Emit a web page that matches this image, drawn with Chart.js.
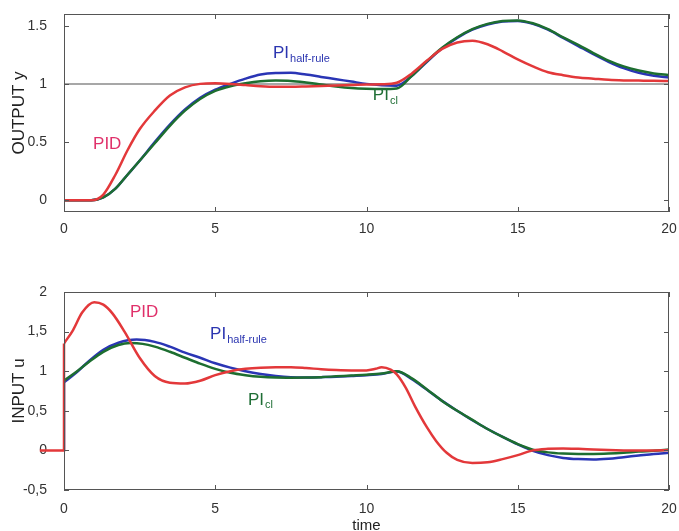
<!DOCTYPE html>
<html>
<head>
<meta charset="utf-8">
<script src="https://cdn.jsdelivr.net/npm/chart.js@4.4.1/dist/chart.umd.min.js"></script>
<style>
  html, body { margin: 0; padding: 0; background: #fff; }
  #wrap { position: relative; width: 679px; height: 531px; }
  canvas { position: absolute; left: 0; }
  #outChart { top: 0; }
  #inChart { top: 265px; }
</style>
</head>
<body>
<div id="wrap">
  <canvas id="outChart" width="679" height="265"></canvas>
  <canvas id="inChart" width="679" height="266"></canvas>
</div>
<script>
// ---------- Data ----------
const xTicks = [0, 5, 10, 15, 20];
const yTicksOut = [0, 0.5, 1, 1.5];
const yTicksIn = [-0.5, 0, 0.5, 1, 1.5, 2];

// OUTPUT y (shared time grid)
const tOut = [0, 0.9, 1.3, 1.7, 2.1, 2.5, 3.0, 3.5, 4.0, 4.5, 5.0, 5.5, 6.0, 6.5, 7.0, 7.5, 8.0, 8.5, 9.0, 9.5,
  10.0, 10.5, 11.0, 11.5, 12.0, 12.5, 13.0, 13.5, 14.0, 14.5, 15.0, 15.5, 16.0, 16.5, 17.0, 17.5, 18.0, 18.5, 19.0, 19.5, 20.0];
const yPid = [0, 0, 0.05, 0.22, 0.43, 0.61, 0.77, 0.9, 0.97, 1.0, 1.005, 1.0, 0.99, 0.98, 0.975, 0.975, 0.978, 0.982, 0.987, 0.99,
  0.995, 0.997, 1.01, 1.09, 1.2, 1.3, 1.355, 1.37, 1.34, 1.28, 1.21, 1.15, 1.1, 1.075, 1.055, 1.045, 1.035, 1.03, 1.028, 1.026, 1.025];
const yHalf = [0, 0, 0.025, 0.1, 0.22, 0.34, 0.5, 0.65, 0.78, 0.88, 0.95, 1.0, 1.045, 1.08, 1.093, 1.095, 1.08, 1.06, 1.04, 1.02,
  1.0, 0.988, 0.985, 1.07, 1.19, 1.305, 1.395, 1.465, 1.51, 1.535, 1.54, 1.515, 1.465, 1.395, 1.325, 1.255, 1.19, 1.135, 1.095, 1.07, 1.055];
const yCl = [0, 0, 0.025, 0.1, 0.22, 0.34, 0.49, 0.64, 0.77, 0.87, 0.94, 0.98, 1.005, 1.022, 1.028, 1.025, 1.012, 0.995, 0.978, 0.965,
  0.958, 0.955, 0.96, 1.07, 1.195, 1.31, 1.40, 1.47, 1.515, 1.54, 1.545, 1.52, 1.47, 1.40, 1.335, 1.265, 1.2, 1.15, 1.115, 1.09, 1.075];
const refT = [0, 20];
const refY = [1, 1];

// INPUT u: step at t = 0 (drawn straight), then the smooth responses
const tPidStep = [-0.8, 0, 0];
const uPidStep = [0, 0, 1.35];
const tPidIn = [0, 0.3, 0.6, 1.0, 1.3, 1.6, 2.0, 2.5, 3.0, 3.5, 4.0, 4.5, 5.0, 5.5, 6.0, 6.5, 7.0, 7.5,
  8.0, 8.5, 9.0, 9.5, 10.0, 10.3, 10.5, 10.8, 11.0, 11.3, 11.6, 12.0, 12.3, 12.65, 13.0, 13.5, 14.0, 14.5, 15.0, 15.5,
  16.0, 16.5, 17.0, 17.5, 18.0, 18.5, 19.0, 19.5, 20.0];
const uPid = [1.35, 1.52, 1.74, 1.87, 1.84, 1.73, 1.5, 1.17, 0.94, 0.855, 0.845, 0.88, 0.95, 1.0, 1.03, 1.045, 1.05, 1.05,
  1.04, 1.025, 1.015, 1.01, 1.01, 1.03, 1.05, 1.02, 0.96, 0.79, 0.56, 0.29, 0.12, -0.03, -0.12, -0.16, -0.15, -0.11, -0.06, 0.0,
  0.02, 0.025, 0.02, 0.012, 0.005, 0.0, -0.002, 0.0, 0.005];
const tHalfStep = [0, 0];
const uHalfStep = [0, 0.86];
const tHalfIn = [0, 0.4, 0.8, 1.3, 1.8, 2.4, 3.0, 3.5, 4.0, 4.5, 5.0, 5.5, 6.0, 6.5, 7.0, 7.5, 8.0, 8.5, 9.0, 9.5,
  10.0, 10.5, 11.0, 11.5, 12.0, 12.5, 13.0, 13.5, 14.0, 14.5, 15.0, 15.5, 16.0, 16.5, 17.0, 17.5, 18.0, 18.5, 19.0, 19.5, 20.0];
const uHalf = [0.86, 0.98, 1.12, 1.27, 1.36, 1.40, 1.37, 1.31, 1.235, 1.17, 1.10, 1.045, 1.0, 0.965, 0.94, 0.925, 0.922, 0.925, 0.93, 0.94,
  0.95, 0.965, 0.995, 0.9, 0.765, 0.625, 0.5, 0.38, 0.27, 0.17, 0.075, -0.005, -0.06, -0.095, -0.11, -0.115, -0.105, -0.085, -0.065, -0.045, -0.03];
const tClIn = [0, 0.4, 0.8, 1.3, 1.8, 2.2, 2.6, 3.0, 3.5, 4.0, 4.5, 5.0, 5.5, 6.0, 6.5, 7.0, 7.5, 8.0, 8.5, 9.0, 9.5,
  10.0, 10.5, 11.0, 11.5, 12.0, 12.5, 13.0, 13.5, 14.0, 14.5, 15.0, 15.5, 16.0, 16.5, 17.0, 17.5, 18.0, 18.5, 19.0, 19.5, 20.0];
const uCl = [0.88, 0.99, 1.11, 1.245, 1.33, 1.355, 1.345, 1.31, 1.245, 1.17, 1.095, 1.03, 0.98, 0.95, 0.93, 0.92, 0.918, 0.92, 0.925, 0.935, 0.945,
  0.955, 0.97, 1.0, 0.91, 0.77, 0.625, 0.5, 0.385, 0.27, 0.17, 0.08, 0.01, -0.025, -0.04, -0.045, -0.045, -0.04, -0.03, -0.015, -0.005, 0.01];

// in-plot labels (data coordinates)
const outLabels = [
  { text: "PID", sub: "", t: 0.96, v: 0.484, color: "#e0306a" },
  { text: "PI", sub: "half-rule", t: 6.91, v: 1.26, color: "#2b35b0" },
  { text: "PI", sub: "cl", t: 10.21, v: 0.9, color: "#1f6e35" },
];
const inLabels = [
  { text: "PID", sub: "", t: 2.18, v: 1.747, color: "#e0306a" },
  { text: "PI", sub: "half-rule", t: 4.83, v: 1.463, color: "#2b35b0" },
  { text: "PI", sub: "cl", t: 6.08, v: 0.636, color: "#1f6e35" },
];

// ---------- Style ----------
const RED = "#e3383a", BLUE = "#2a35b5", GREEN = "#1d6e30";
const FONT = "'Liberation Sans', Arial, sans-serif";
const pts = (ts, vs) => ts.map((t, i) => ({ x: t, y: vs[i] }));
const line = (data, color, extra = {}) => ({
  data, borderColor: color, borderWidth: 2.5, pointRadius: 0,
  cubicInterpolationMode: "monotone", fill: false, ...extra,
});
const straight = (data, color, extra = {}) => line(data, color, { cubicInterpolationMode: "default", tension: 0, ...extra });

// box + inward ticks + text labels
function framePlugin(labels) {
  return {
    id: "frame",
    afterDatasetsDraw(chart) {
      const { ctx, chartArea: a, scales: { x, y } } = chart;
      ctx.save();
      ctx.strokeStyle = "#555";
      ctx.lineWidth = 1;
      ctx.strokeRect(a.left + 0.5, a.top + 0.5, a.width - 1, a.height - 1);
      const L = 5;
      ctx.beginPath();
      x.ticks.forEach((tk) => {
        const px = Math.round(x.getPixelForValue(tk.value)) + 0.5;
        ctx.moveTo(px, a.bottom); ctx.lineTo(px, a.bottom - L);
        ctx.moveTo(px, a.top); ctx.lineTo(px, a.top + L);
      });
      y.ticks.forEach((tk) => {
        const py = Math.round(y.getPixelForValue(tk.value)) + 0.5;
        ctx.moveTo(a.left, py); ctx.lineTo(a.left + L, py);
        ctx.moveTo(a.right, py); ctx.lineTo(a.right - L, py);
      });
      ctx.stroke();

      ctx.textBaseline = "middle";
      ctx.textAlign = "left";
      labels.forEach((l) => {
        const px = x.getPixelForValue(l.t), py = y.getPixelForValue(l.v);
        ctx.fillStyle = l.color;
        ctx.font = "17px " + FONT;
        ctx.fillText(l.text, px, py);
        if (l.sub) {
          const w = ctx.measureText(l.text).width;
          ctx.font = "11px " + FONT;
          ctx.fillText(l.sub, px + w + 1, py + 5);
        }
      });
      ctx.restore();
    },
  };
}

function axes(yMin, yMax, yTickVals, yTitle, fmt, xTitle, xHeight, xPad) {
  return {
    x: {
      type: "linear", min: 0, max: 20,
      grid: { display: false }, border: { display: false },
      afterBuildTicks: (s) => { s.ticks = xTicks.map((v) => ({ value: v })); },
      afterFit: (s) => { s.height = xHeight; s.paddingLeft = 0; s.paddingRight = 0; },
      ticks: { color: "#333", font: { family: FONT, size: 14 }, padding: xPad, maxRotation: 0 },
      title: xTitle
        ? { display: true, text: xTitle, color: "#222", font: { family: FONT, size: 15, lineHeight: 1 }, padding: { top: 0, bottom: -2 } }
        : { display: false },
    },
    y: {
      min: yMin, max: yMax,
      grid: { display: false }, border: { display: false },
      afterBuildTicks: (s) => { s.ticks = yTickVals.map((v) => ({ value: v })); },
      afterFit: (s) => { s.width = 64; s.paddingTop = 0; s.paddingBottom = 0; },
      ticks: { color: "#333", font: { family: FONT, size: 14 }, padding: 9, callback: fmt },
      title: { display: true, text: yTitle, color: "#222", font: { family: FONT, size: 17, lineHeight: 1 }, padding: { top: 11, bottom: 0 } },
    },
  };
}

const baseOpts = {
  responsive: false,
  animation: false,
  events: [],
  plugins: { legend: { display: false }, tooltip: { enabled: false } },
};

// ---------- Charts ----------
new Chart(document.getElementById("outChart"), {
  type: "line",
  data: {
    datasets: [
      line(pts(tOut, yPid), RED),
      line(pts(tOut, yCl), GREEN),
      line(pts(tOut, yHalf), BLUE),
      straight(pts(refT, refY), "#8a8a8a", { borderWidth: 1.5 }),
    ],
  },
  options: {
    ...baseOpts,
    layout: { padding: { top: 14, right: 10, left: 0, bottom: 0 } },
    scales: axes(-0.1, 1.6, yTicksOut, "OUTPUT y", (v) => String(v), "", 53, 1),
  },
  plugins: [framePlugin(outLabels)],
});

new Chart(document.getElementById("inChart"), {
  type: "line",
  data: {
    datasets: [
      line(pts(tPidIn, uPid), RED),
      straight(pts(tPidStep, uPidStep), RED, { clip: false }),
      line(pts(tClIn, uCl), GREEN),
      line(pts(tHalfIn, uHalf), BLUE),
      straight(pts(tHalfStep, uHalfStep), BLUE),
    ],
  },
  options: {
    ...baseOpts,
    layout: { padding: { top: 27, right: 10, left: 0, bottom: 0 } },
    scales: axes(-0.5, 2, yTicksIn, "INPUT u", (v) => String(v).replace(".", ","), "time", 41, 3),
  },
  plugins: [framePlugin(inLabels)],
});
</script>
</body>
</html>
